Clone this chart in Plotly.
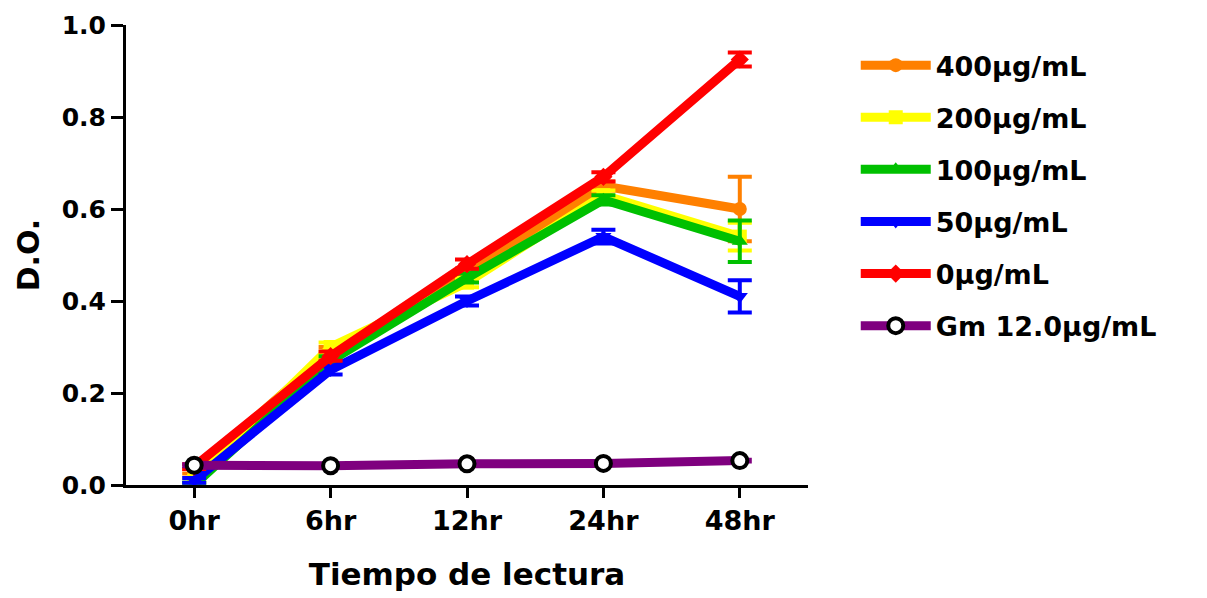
import plotly.graph_objects as go

categories = ["0hr", "6hr", "12hr", "24hr", "48hr"]

series_names = ["400µg/mL", "200µg/mL", "100µg/mL", "50µg/mL", "0µg/mL", "Gm 12.0µg/mL"]
v400 = [0.03, 0.29, 0.46, 0.65, 0.60]
e400 = [0.005, 0.01, 0.01, 0.01, 0.07]
v200 = [0.01, 0.30, 0.44, 0.63, 0.54]
e200 = [0.005, 0.01, 0.01, 0.01, 0.03]
v100 = [0.00, 0.27, 0.45, 0.62, 0.53]
e100 = [0.005, 0.01, 0.01, 0.01, 0.045]
v50 = [0.01, 0.25, 0.40, 0.54, 0.41]
e50 = [0.005, 0.01, 0.01, 0.015, 0.035]
v0 = [0.04, 0.28, 0.48, 0.67, 0.925]
e0 = [0.005, 0.01, 0.01, 0.01, 0.015]
vgm = [0.043, 0.042, 0.046, 0.047, 0.053]
egm = [0.002, 0.002, 0.002, 0.002, 0.002]

colors = ["#FF8000", "#FFFF00", "#00C000", "#0000FF", "#FF0000", "#7F007F"]
symbols = ["circle", "square", "triangle-up", "triangle-down", "diamond", "circle"]
values = [v400, v200, v100, v50, v0, vgm]
errors = [e400, e200, e100, e50, e0, egm]

xidx = list(range(len(categories)))

fig = go.Figure()
for i, name in enumerate(series_names):
    if i == 5:
        marker = dict(symbol="circle", size=15, color="white", line=dict(color="black", width=4))
    else:
        marker = dict(symbol=symbols[i], size=14, color=colors[i], line=dict(width=0))
    fig.add_trace(go.Scatter(
        x=xidx, y=values[i], name=name, mode="lines+markers",
        legendgroup="g%d" % i,
        line=dict(color=colors[i], width=9),
        marker=marker,
        error_y=dict(type="data", array=errors[i], visible=True, color=colors[i], thickness=4, width=12),
    ))

font_family = "DejaVu Sans"
fig.update_layout(
    width=1207, height=598,
    margin=dict(l=126, r=399, t=25, b=113),
    paper_bgcolor="white", plot_bgcolor="white",
    font=dict(family=font_family, color="black", size=25),
    showlegend=True,
    legend=dict(
        x=1.07, y=0.965, xanchor="left", yanchor="top",
        font=dict(family=font_family, size=27, color="black", weight="bold"),
        itemwidth=70, tracegroupgap=14, bgcolor="rgba(0,0,0,0)",
    ),
    xaxis=dict(
        range=[-0.5, 4.5], tickmode="array", tickvals=xidx, ticktext=categories,
        showline=True, linecolor="black", linewidth=3, ticks="outside", ticklen=10,
        tickwidth=3, tickcolor="black", showgrid=False, zeroline=False,
        tickfont=dict(family=font_family, size=27, weight="bold"),
        title=dict(text="Tiempo de lectura", font=dict(family=font_family, size=31, weight="bold"), standoff=28),
    ),
    yaxis=dict(
        range=[0, 1.0], tickvals=[0, 0.2, 0.4, 0.6, 0.8, 1.0],
        ticktext=["0.0", "0.2", "0.4", "0.6", "0.8", "1.0"],
        showline=True, linecolor="black", linewidth=3, ticks="outside", ticklen=12,
        tickwidth=3, tickcolor="black", showgrid=False, zeroline=False,
        tickfont=dict(family=font_family, size=25, weight="bold"),
        title=dict(text="D.O.", font=dict(family=font_family, size=30, weight="bold"), standoff=14),
    ),
)

fig.write_html("out.html")
